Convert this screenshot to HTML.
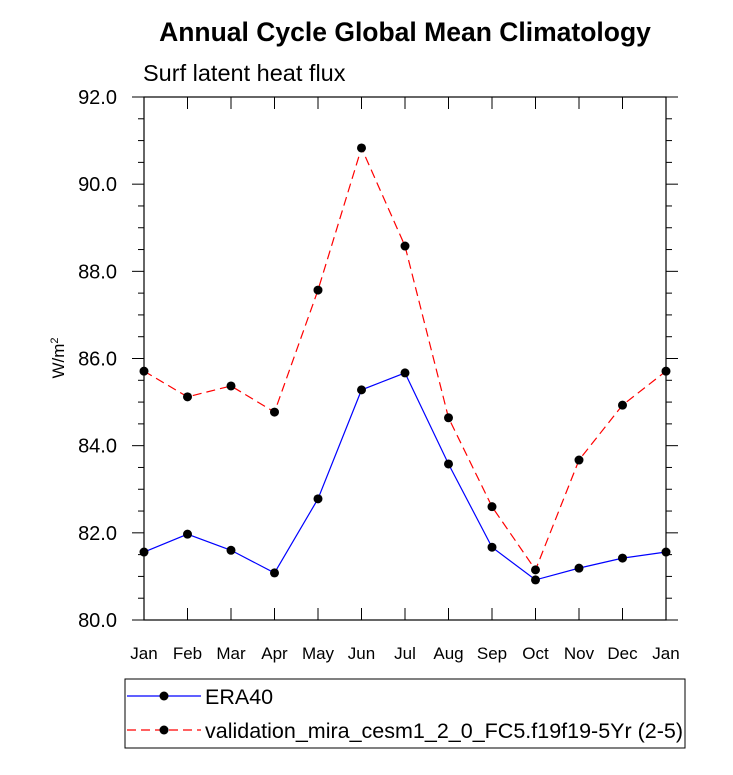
<!DOCTYPE html>
<html><head><meta charset="utf-8"><style>
body{margin:0;background:#fff;}
svg text{font-family:"Liberation Sans",Helvetica,sans-serif;}
</style></head><body>
<svg width="733" height="770" xmlns="http://www.w3.org/2000/svg">
<text x="405" y="41" text-anchor="middle" font-size="26.5" font-weight="bold">Annual Cycle Global Mean Climatology</text>
<text x="143" y="81" font-size="23.5">Surf latent heat flux</text>
<g id="axes"></g>
<g id="marks"></g>
<text transform="translate(64,358) rotate(-90)" text-anchor="middle" font-size="17">W/m<tspan dy="-6" font-size="11">2</tspan></text>
<g>
<rect x="125" y="679" width="560" height="69" fill="none" stroke="#000" stroke-width="1"/>
<g>
<line x1="127" y1="696" x2="201" y2="696" stroke="#00f" stroke-width="1.2"/>
<circle cx="164" cy="696" r="4.5" fill="#000"/>
<text x="205" y="704" font-size="21.5">ERA40</text></g>
<g>
<line x1="127" y1="730" x2="201" y2="730" stroke="#f00" stroke-width="1.2" stroke-dasharray="9,5"/>
<circle cx="164" cy="730" r="4.5" fill="#000"/>
<text x="205" y="738" font-size="21.5">validation_mira_cesm1_2_0_FC5.f19f19-5Yr (2-5)</text></g>
</g>
</svg>
<script>
const months=["Jan","Feb","Mar","Apr","May","Jun","Jul","Aug","Sep","Oct","Nov","Dec","Jan"];
const era40=[81.56,81.97,81.6,81.08,82.78,85.28,85.67,83.58,81.67,80.92,81.19,81.42,81.56];
const model=[85.71,85.12,85.37,84.77,87.57,90.83,88.58,84.64,82.6,81.15,83.67,84.93,85.71];
const yTicks=[80,82,84,86,88,90,92];
const X0=144,X1=666,Y0=620,Y1=97,YMIN=80,YMAX=92;
const xs=i=>X0+(X1-X0)*i/(months.length-1);
const ys=v=>Y0-(Y0-Y1)*(v-YMIN)/(YMAX-YMIN);
const NS="http://www.w3.org/2000/svg";
function mk(t,a,p){const e=document.createElementNS(NS,t);for(const k in a)e.setAttribute(k,a[k]);p.appendChild(e);return e;}
const ax=document.getElementById('axes'),mg=document.getElementById('marks');
const fr=mk('rect',{x:X0,y:Y1,width:X1-X0,height:Y0-Y1,fill:'none',stroke:'#000','stroke-width':1.2},ax);


months.forEach((m,i)=>{
  const x=xs(i);
  mk('line',{x1:x,y1:Y0,x2:x,y2:Y0-12,stroke:'#000'},ax);
  mk('line',{x1:x,y1:Y1,x2:x,y2:Y1+12,stroke:'#000'},ax);
  const t=mk('text',{x:x,y:Y0+39,'text-anchor':'middle','font-size':17},ax);
  t.textContent=m;
  
  
});
for(let v=YMIN;v<=YMAX;v+=0.5){
  const y=ys(v),big=Math.abs(v%2)<1e-9,l=big?12:6;
  mk('line',{x1:X0,y1:y,x2:X0-l,y2:y,stroke:'#000'},ax);
  mk('line',{x1:X1,y1:y,x2:X1+l,y2:y,stroke:'#000'},ax);
}
yTicks.forEach(v=>{
  const t=mk('text',{x:X0-27,y:ys(v)+7,'text-anchor':'end','font-size':20},ax);
  t.textContent=v.toFixed(1);
  
  
});
function series(d,col,dash,name){
  const pl=mk('polyline',{points:d.map((v,i)=>xs(i)+','+ys(v)).join(' '),fill:'none',stroke:col,'stroke-width':1.2,'stroke-dasharray':dash},mg);
  
  
  d.forEach((v,i)=>{
    const c=mk('circle',{cx:xs(i),cy:ys(v),r:4.5,fill:'#000'},mg);
    
    
  });
}
series(era40,'#00f','none','era40');
series(model,'#f00','9,5','model');
</script>
</body></html>
